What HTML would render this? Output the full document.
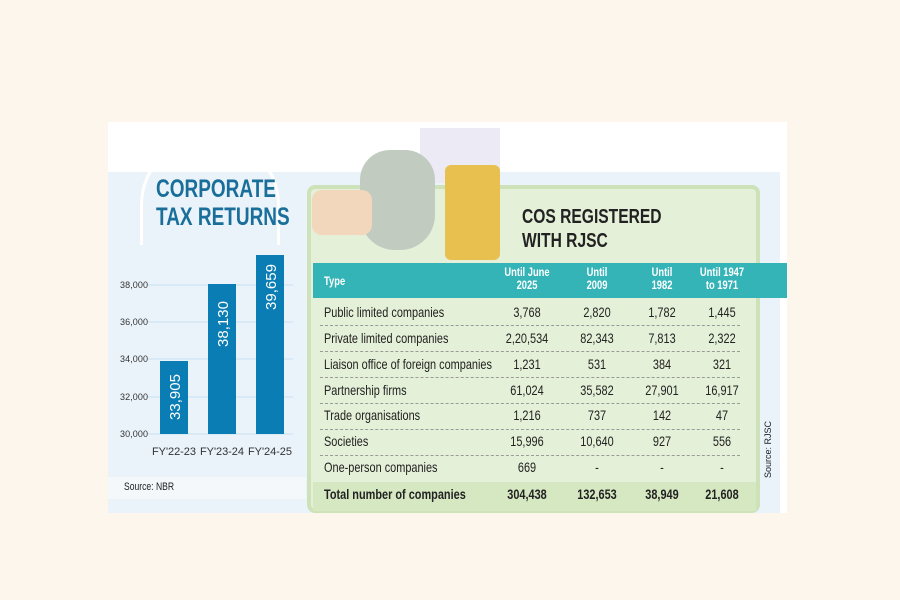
<!DOCTYPE html><html><head><style>
*{margin:0;padding:0;box-sizing:border-box}
body{width:900px;height:600px;background:#fdf6ec;position:relative;overflow:hidden;font-family:"Liberation Sans",sans-serif}
.a{position:absolute}
.t{position:absolute;font-size:14px;color:#222;white-space:nowrap;transform:scaleX(.78);transform-origin:left top}
.c{text-align:center;width:90px;margin-left:-45px;transform-origin:center top}
.dash{position:absolute;left:320px;width:420px;border-top:1px dashed #9a9a9a}
</style></head><body>
<div class="a" style="left:108px;top:122px;width:679px;height:391px;background:#fff"></div>
<div class="a" style="left:108px;top:172px;width:672px;height:341px;background:#eaf3fa"></div>
<div class="a" style="left:140px;top:135px;width:140px;height:110px;border:3px solid #fff;border-bottom:none;border-radius:70px 70px 0 0"></div>
<div class="t" style="left:156px;top:175px;font-size:25px;font-weight:bold;color:#1a6e9a;line-height:28px;text-align:center;width:142px;transform:scaleX(.76)">CORPORATE<br>TAX RETURNS</div>
<svg class="a" style="left:108px;top:240px" height="260" width="200">
<g stroke="#c8dff0" stroke-width="1">
<line x1="40" y1="45" x2="185" y2="45"/><line x1="40" y1="82" x2="185" y2="82"/><line x1="40" y1="119" x2="185" y2="119"/><line x1="40" y1="157" x2="185" y2="157"/><line x1="40" y1="194" x2="185" y2="194"/></g>
<g font-family="Liberation Sans,sans-serif" font-size="9" fill="#333" text-anchor="end">
<text x="40" y="48" textLength="28">38,000</text><text x="40" y="85" textLength="28">36,000</text><text x="40" y="122" textLength="28">34,000</text><text x="40" y="160" textLength="28">32,000</text><text x="40" y="197" textLength="28">30,000</text></g>
<rect x="52" y="121" width="28" height="73" fill="#0a7db5"/>
<rect x="100" y="44" width="28" height="150" fill="#0a7db5"/>
<rect x="148" y="15" width="28" height="179" fill="#0a7db5"/>
<g font-family="Liberation Sans,sans-serif" font-size="15" fill="#fff" text-anchor="middle">
<text transform="translate(72,157) rotate(-90)">33,905</text>
<text transform="translate(120,84) rotate(-90)">38,130</text>
<text transform="translate(168,47) rotate(-90)">39,659</text></g>
<g font-family="Liberation Sans,sans-serif" font-size="11" fill="#333">
<text x="44" y="215" textLength="44">FY'22-23</text><text x="92" y="215" textLength="44">FY'23-24</text><text x="140" y="215" textLength="44">FY'24-25</text></g>
</svg>
<div class="a" style="left:108px;top:477px;width:198px;height:22px;background:#f4f8fb"></div>
<div class="t" style="left:124px;top:481px;font-size:11px">Source: NBR</div>
<div class="a" style="left:307px;top:185px;width:453px;height:328px;background:#e4f0d7;border:4px solid #cde2b8;border-radius:8px"></div>
<div class="a" style="left:420px;top:128px;width:80px;height:55px;background:#eceaf4"></div>
<div class="a" style="left:360px;top:150px;width:75px;height:100px;background:#c2cbc0;border-radius:30px 30px 35px 35px"></div>
<div class="a" style="left:312px;top:190px;width:60px;height:45px;background:#f2d7bc;border-radius:10px"></div>
<div class="a" style="left:445px;top:165px;width:55px;height:95px;background:#e8c050;border-radius:6px"></div>
<div class="t" style="left:522px;top:205px;font-size:20px;font-weight:bold;line-height:24px">COS REGISTERED<br>WITH RJSC</div>
<div class="a" style="left:313px;top:263px;width:474px;height:35px;background:#35b4b8"></div>
<div class="t" style="left:324px;top:274px;color:#fff;font-size:12px;font-weight:bold">Type</div>
<div class="t c" style="left:527px;top:266px;color:#fff;font-size:12px;font-weight:bold;line-height:13px">Until June<br>2025</div>
<div class="t c" style="left:597px;top:266px;color:#fff;font-size:12px;font-weight:bold;line-height:13px">Until<br>2009</div>
<div class="t c" style="left:662px;top:266px;color:#fff;font-size:12px;font-weight:bold;line-height:13px">Until<br>1982</div>
<div class="t c" style="left:722px;top:266px;color:#fff;font-size:12px;font-weight:bold;line-height:13px">Until 1947<br>to 1971</div>
<div class="dash" style="top:325px"></div><div class="dash" style="top:351px"></div><div class="dash" style="top:377px"></div><div class="dash" style="top:403px"></div><div class="dash" style="top:429px"></div><div class="dash" style="top:455px"></div>
<div class="a" style="left:313px;top:482px;width:443px;height:29px;background:#d6e8c2"></div>
<div class="t" style="left:324px;top:304px">Public limited companies</div>
<div class="t c" style="left:527px;top:304px">3,768</div><div class="t c" style="left:597px;top:304px">2,820</div><div class="t c" style="left:662px;top:304px">1,782</div><div class="t c" style="left:722px;top:304px">1,445</div>
<div class="t" style="left:324px;top:330px">Private limited companies</div>
<div class="t c" style="left:527px;top:330px">2,20,534</div><div class="t c" style="left:597px;top:330px">82,343</div><div class="t c" style="left:662px;top:330px">7,813</div><div class="t c" style="left:722px;top:330px">2,322</div>
<div class="t" style="left:324px;top:356px">Liaison office of foreign companies</div>
<div class="t c" style="left:527px;top:356px">1,231</div><div class="t c" style="left:597px;top:356px">531</div><div class="t c" style="left:662px;top:356px">384</div><div class="t c" style="left:722px;top:356px">321</div>
<div class="t" style="left:324px;top:382px">Partnership firms</div>
<div class="t c" style="left:527px;top:382px">61,024</div><div class="t c" style="left:597px;top:382px">35,582</div><div class="t c" style="left:662px;top:382px">27,901</div><div class="t c" style="left:722px;top:382px">16,917</div>
<div class="t" style="left:324px;top:407px">Trade organisations</div>
<div class="t c" style="left:527px;top:407px">1,216</div><div class="t c" style="left:597px;top:407px">737</div><div class="t c" style="left:662px;top:407px">142</div><div class="t c" style="left:722px;top:407px">47</div>
<div class="t" style="left:324px;top:433px">Societies</div>
<div class="t c" style="left:527px;top:433px">15,996</div><div class="t c" style="left:597px;top:433px">10,640</div><div class="t c" style="left:662px;top:433px">927</div><div class="t c" style="left:722px;top:433px">556</div>
<div class="t" style="left:324px;top:459px">One-person companies</div>
<div class="t c" style="left:527px;top:459px">669</div><div class="t c" style="left:597px;top:459px">-</div><div class="t c" style="left:662px;top:459px">-</div><div class="t c" style="left:722px;top:459px">-</div>
<div class="t" style="left:324px;top:486px;font-weight:bold">Total number of companies</div>
<div class="t c" style="left:527px;top:486px;font-weight:bold">304,438</div><div class="t c" style="left:597px;top:486px;font-weight:bold">132,653</div><div class="t c" style="left:662px;top:486px;font-weight:bold">38,949</div><div class="t c" style="left:722px;top:486px;font-weight:bold">21,608</div>
<div class="a" style="font-size:9px;color:#222;white-space:nowrap;transform:rotate(-90deg);transform-origin:left top;top:478px;left:763px">Source: RJSC</div>
</body></html>
